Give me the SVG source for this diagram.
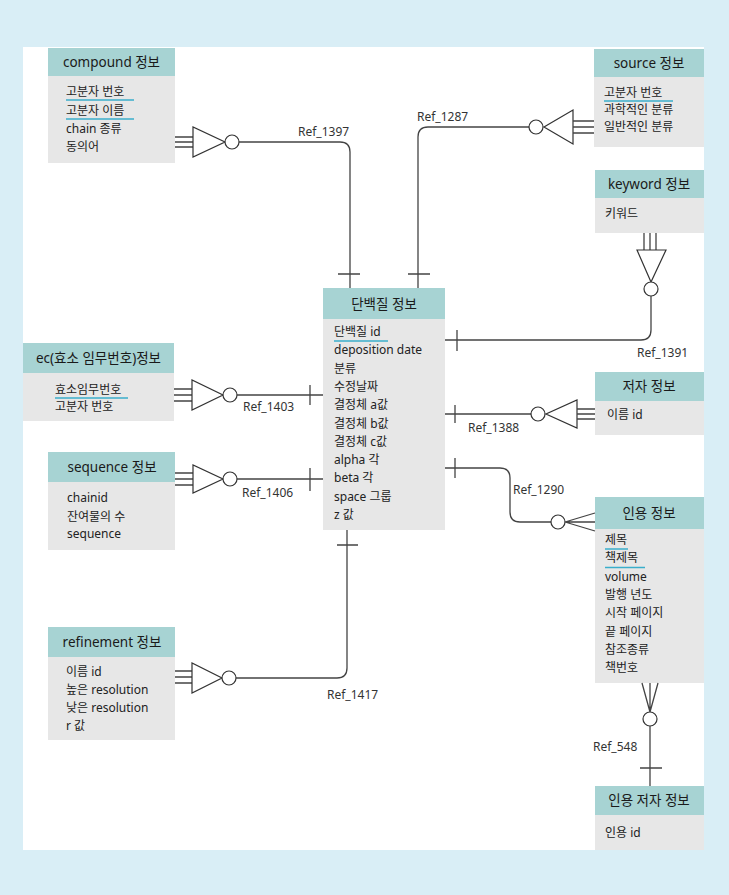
<svg xmlns="http://www.w3.org/2000/svg" width="729" height="895" viewBox="0 0 729 895">
<style>
.bg{fill:#d9eef6}
.panel{fill:#ffffff}
.hd{fill:#a7d3d3}
.bd{fill:#e7e7e7}
.ht{font-family:"Noto Sans","Noto Sans CJK KR",sans-serif;font-size:13.5px;fill:#1a1a1a;text-anchor:middle}
.rt{font-family:"Noto Sans","Noto Sans CJK KR",sans-serif;font-size:12px;fill:#222}
.lb{font-family:"Noto Sans","Noto Sans CJK KR",sans-serif;font-size:12px;fill:#333}
.ul{stroke:#3aaecb;stroke-width:1.5;fill:none}
.ln{stroke:#444;stroke-width:1.3;fill:none}
.sym{stroke:#333;stroke-width:1.2;fill:#fff}
</style>
<rect class="bg" x="0" y="0" width="729" height="895"/>
<rect class="panel" x="23" y="47" width="681" height="803"/>

<g id="compound">
<rect class="hd" x="48" y="48" width="127" height="28"/>
<rect class="bd" x="48" y="76" width="127" height="87"/>
<text class="ht" x="111.5" y="67">compound 정보</text>
<text class="rt" x="66" y="96">고분자 번호</text>
<text class="rt" x="66" y="115">고분자 이름</text>
<text class="rt" x="66" y="133">chain 종류</text>
<text class="rt" x="66" y="151">동의어</text>
<line class="ul" x1="66" y1="100" x2="134" y2="100"/>
<line class="ul" x1="66" y1="119" x2="134" y2="119"/>
</g>

<g id="source">
<rect class="hd" x="594" y="49" width="110" height="28"/>
<rect class="bd" x="594" y="77" width="110" height="70"/>
<text class="ht" x="649" y="68">source 정보</text>
<text class="rt" x="604" y="97">고분자 번호</text>
<text class="rt" x="604" y="114">과학적인 분류</text>
<text class="rt" x="604" y="131">일반적인 분류</text>
<line class="ul" x1="604" y1="101" x2="673" y2="101"/>
</g>

<g id="keyword">
<rect class="hd" x="595" y="170" width="109" height="28"/>
<rect class="bd" x="595" y="198" width="109" height="35"/>
<text class="ht" x="649" y="189">keyword 정보</text>
<text class="rt" x="605" y="218">키워드</text>
</g>

<g id="protein">
<rect class="hd" x="323" y="288" width="122" height="31"/>
<rect class="bd" x="323" y="319" width="122" height="211"/>
<text class="ht" x="384" y="309">단백질 정보</text>
<text class="rt" x="334" y="336">단백질 id</text>
<text class="rt" x="334" y="354.3">deposition date</text>
<text class="rt" x="334" y="372.6">분류</text>
<text class="rt" x="334" y="390.9">수정날짜</text>
<text class="rt" x="334" y="409.2">결정체 a값</text>
<text class="rt" x="334" y="427.5">결정체 b값</text>
<text class="rt" x="334" y="445.8">결정체 c값</text>
<text class="rt" x="334" y="464.1">alpha 각</text>
<text class="rt" x="334" y="482.4">beta 각</text>
<text class="rt" x="334" y="500.7">space 그룹</text>
<text class="rt" x="334" y="519">z 값</text>
<line class="ul" x1="334" y1="341" x2="388" y2="341"/>
</g>

<g id="ec">
<rect class="hd" x="23" y="343" width="151" height="30"/>
<rect class="bd" x="23" y="373" width="151" height="48"/>
<text class="ht" x="98.5" y="363">ec(효소 임무번호)정보</text>
<text class="rt" x="55" y="394">효소임무번호</text>
<text class="rt" x="55" y="411">고분자 번호</text>
<line class="ul" x1="55" y1="398" x2="128" y2="398"/>
</g>

<g id="sequence">
<rect class="hd" x="48" y="452" width="127" height="30"/>
<rect class="bd" x="48" y="482" width="127" height="68"/>
<text class="ht" x="112" y="472">sequence 정보</text>
<text class="rt" x="67" y="502">chainid</text>
<text class="rt" x="67" y="521">잔여물의 수</text>
<text class="rt" x="67" y="538">sequence</text>
</g>

<g id="refinement">
<rect class="hd" x="48" y="627" width="127" height="30"/>
<rect class="bd" x="48" y="657" width="127" height="83"/>
<text class="ht" x="112" y="647">refinement 정보</text>
<text class="rt" x="66" y="676">이름 id</text>
<text class="rt" x="66" y="694">높은 resolution</text>
<text class="rt" x="66" y="712">낮은 resolution</text>
<text class="rt" x="66" y="730">r 값</text>
</g>

<g id="author">
<rect class="hd" x="595" y="372" width="109" height="29"/>
<rect class="bd" x="595" y="401" width="109" height="34"/>
<text class="ht" x="649" y="391">저자 정보</text>
<text class="rt" x="607" y="419">이름 id</text>
</g>

<g id="citation">
<rect class="hd" x="595" y="497" width="109" height="32"/>
<rect class="bd" x="595" y="529" width="109" height="154"/>
<text class="ht" x="649" y="518">인용 정보</text>
<text class="rt" x="605" y="544">제목</text>
<text class="rt" x="605" y="562.3">책제목</text>
<text class="rt" x="605" y="580.6">volume</text>
<text class="rt" x="605" y="598.9">발행 년도</text>
<text class="rt" x="605" y="617.2">시작 페이지</text>
<text class="rt" x="605" y="635.5">끝 페이지</text>
<text class="rt" x="605" y="653.8">참조종류</text>
<text class="rt" x="605" y="672.1">책번호</text>
<line class="ul" x1="605" y1="549" x2="628" y2="549"/>
<line class="ul" x1="605" y1="567.5" x2="645" y2="567.5"/>
</g>

<g id="citation_author">
<rect class="hd" x="595" y="786" width="109" height="29"/>
<rect class="bd" x="595" y="815" width="109" height="35"/>
<text class="ht" x="649" y="805">인용 저자 정보</text>
<text class="rt" x="605" y="837">인용 id</text>
</g>

<g id="connectors">
<!-- Ref_1397 -->
<path class="ln" d="M175,137H193M175,142H193M175,147H193"/>
<path class="sym" d="M193,127V157L225,142Z"/>
<circle class="sym" cx="232" cy="142" r="7"/>
<path class="ln" d="M239,142H340Q350,142 350,152V288M338,274H360"/>
<text class="lb" x="298" y="136">Ref_1397</text>

<!-- Ref_1287 -->
<path class="ln" d="M418,288V137Q418,127 428,127H529M408,274H430"/>
<circle class="sym" cx="536" cy="127" r="7"/>
<path class="sym" d="M573,110V144L544,127Z"/>
<path class="ln" d="M573,121H594M573,127H594M573,133H594"/>
<text class="lb" x="417" y="121">Ref_1287</text>

<!-- Ref_1391 -->
<path class="ln" d="M644,233V250M650,233V250M656,233V250"/>
<path class="sym" d="M637,250H666L651,282Z"/>
<circle class="sym" cx="651" cy="289" r="7"/>
<path class="ln" d="M651,296V330Q651,340 641,340H445M457,330V351"/>
<text class="lb" x="637" y="357">Ref_1391</text>

<!-- Ref_1403 -->
<path class="ln" d="M174,389H192M174,395H192M174,401H192"/>
<path class="sym" d="M192,380V410L223,395Z"/>
<circle class="sym" cx="230" cy="395" r="7"/>
<path class="ln" d="M237,395H323M310,385V405"/>
<text class="lb" x="243" y="411">Ref_1403</text>

<!-- Ref_1406 -->
<path class="ln" d="M175,473H193M175,479H193M175,485H193"/>
<path class="sym" d="M193,465V493L223,479Z"/>
<circle class="sym" cx="230" cy="479" r="7"/>
<path class="ln" d="M237,479H323M310,468V491"/>
<text class="lb" x="242" y="497">Ref_1406</text>

<!-- Ref_1417 -->
<path class="ln" d="M175,671H192M175,677H192M175,683H192"/>
<path class="sym" d="M192,663V693L222,678Z"/>
<circle class="sym" cx="229" cy="678" r="7"/>
<path class="ln" d="M236,678H337Q347,678 347,668V530M337,545H358"/>
<text class="lb" x="327" y="699">Ref_1417</text>

<!-- Ref_1388 -->
<path class="ln" d="M445,414H531M455,405V423"/>
<circle class="sym" cx="538" cy="414" r="7"/>
<path class="sym" d="M577,400V428L546,414Z"/>
<path class="ln" d="M577,409H595M577,414H595M577,419H595"/>
<text class="lb" x="468" y="432">Ref_1388</text>

<!-- Ref_1290 -->
<path class="ln" d="M445,468H500Q510,468 510,478V512Q510,522 520,522H551M455,458V478"/>
<circle class="sym" cx="558" cy="522" r="7"/>
<path class="ln" d="M565,522L595,513M565,522H595M565,522L595,531"/>
<text class="lb" x="513" y="494">Ref_1290</text>

<!-- Ref_548 -->
<path class="ln" d="M642,683L650,712M650,683V712M658,683L650,712"/>
<circle class="sym" cx="650" cy="719" r="7"/>
<path class="ln" d="M650,726V786M640,768H662"/>
<text class="lb" x="593" y="751">Ref_548</text>
</g>
</svg>
